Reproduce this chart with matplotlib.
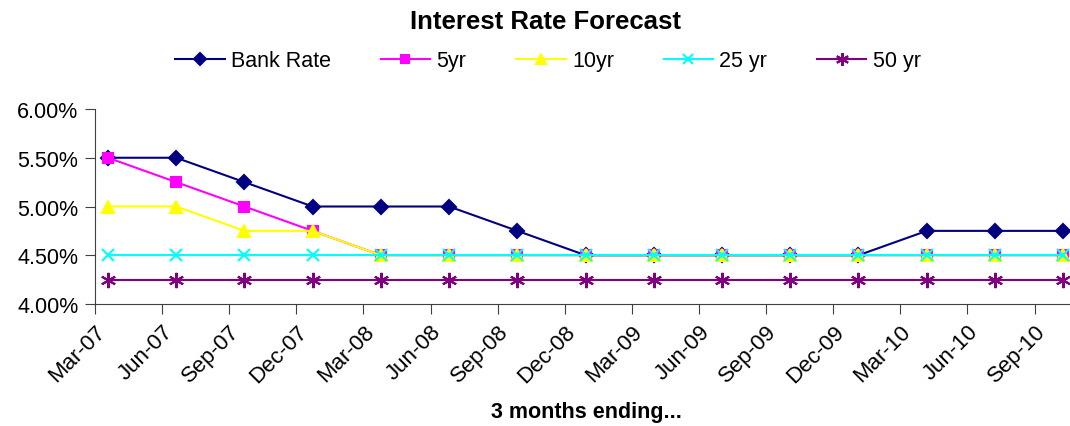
import matplotlib.pyplot as plt
import numpy as np

plt.rcParams['font.family'] = ['Liberation Sans', 'DejaVu Sans']
plt.rcParams.update({'xtick.direction': 'out', 'ytick.direction': 'out'})

quarters = ['Mar-07', 'Jun-07', 'Sep-07', 'Dec-07', 'Mar-08', 'Jun-08', 'Sep-08', 'Dec-08',
            'Mar-09', 'Jun-09', 'Sep-09', 'Dec-09', 'Mar-10', 'Jun-10', 'Sep-10']
bank_rate = [5.50, 5.50, 5.25, 5.00, 5.00, 5.00, 4.75, 4.50, 4.50, 4.50, 4.50, 4.50, 4.75, 4.75, 4.75]
yr5 = [5.50, 5.25, 5.00, 4.75, 4.50, 4.50, 4.50, 4.50, 4.50, 4.50, 4.50, 4.50, 4.50, 4.50, 4.50]
yr10 = [5.00, 5.00, 4.75, 4.75, 4.50, 4.50, 4.50, 4.50, 4.50, 4.50, 4.50, 4.50, 4.50, 4.50, 4.50]
yr25 = [4.50] * 15
yr50 = [4.25] * 15

series = [
    ('Bank Rate', bank_rate, '#000080', 'D', 7),
    ('5yr', yr5, '#FF00FF', 's', 7),
    ('10yr', yr10, '#FFFF00', '^', 8),
    ('25 yr', yr25, '#00FFFF', 'x', 9),
    ('50 yr', yr50, '#800080', (6, 2, 0), 11),
]

fig = plt.figure(figsize=(10.7, 4.27), dpi=100)
ax = fig.add_axes([95 / 1070, 1 - 305 / 427, (1070 - 95) / 1070, (305 - 110) / 427])

x = np.arange(len(quarters))
for name, vals, color, marker, ms in series:
    ax.plot(x, vals, color=color, lw=1.5, marker=marker, ms=ms, mew=1.5,
            markerfacecolor=color, markeredgecolor=color, label=name)

ax.set_xlim(-0.19, 14.1)
ax.set_ylim(4.0, 6.0)
yt = np.arange(4.0, 6.01, 0.5)
ax.set_yticks(yt)
ax.set_yticklabels(['%.2f%%' % v for v in yt], fontsize=15.5)
ax.set_xticks(np.linspace(-0.19, 13.58, len(quarters)))
ax.set_xticklabels(quarters, rotation=45, ha='right', rotation_mode='anchor', fontsize=16)
ax.tick_params(length=7, color='#404040', pad=5)
for s in ['top', 'right']:
    ax.spines[s].set_visible(False)
for s in ['left', 'bottom']:
    ax.spines[s].set_color('#404040')

fig.text(586 / 1070, 1 - 413 / 427, '3 months ending...', ha='center', va='center',
         fontsize=15.5, fontweight='bold')
fig.text(545 / 1070, 1 - 22 / 427, 'Interest Rate Forecast', ha='center', va='center',
         fontsize=18.5, fontweight='bold')
fig.legend(loc='center', bbox_to_anchor=(548 / 1070, 1 - 62 / 427), ncol=5, frameon=False,
           fontsize=15.5, handlelength=2.3, columnspacing=2.3, handletextpad=0.3,
           markerscale=0.85, borderpad=0)

fig.savefig('out.png', dpi=100)
